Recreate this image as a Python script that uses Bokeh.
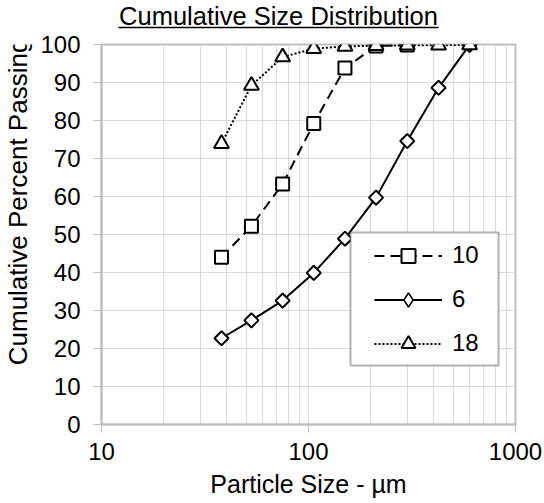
import numpy as np
from bokeh.plotting import figure
from bokeh.layouts import column, row
from bokeh.models import (Range1d, FixedTicker, Legend, LegendItem, BoxAnnotation,
                          PrintfTickFormatter)
from bokeh.core.properties import value
from bokeh.embed import file_html
from bokeh.resources import INLINE

# ---- data ----
sizes = [38, 53, 75, 106, 150, 212, 300, 425, 600]
sizes_10 = [38, 53, 75, 106, 150, 212, 300]
pass_10 = [44.0, 52.2, 63.3, 79.2, 93.8, 99.6, 99.9]
pass_6 = [22.7, 27.4, 32.6, 39.9, 48.9, 59.7, 74.6, 88.6, 99.9]
pass_18 = [73.9, 89.2, 96.7, 98.9, 99.5, 99.7, 99.8, 99.8, 99.9]
series_names = ["10", "6", "18"]
x_major = [10, 100, 1000]
x_minor = [20, 30, 40, 50, 60, 70, 80, 90, 200, 300, 400, 500, 600, 700, 800, 900]
y_ticks = [0, 10, 20, 30, 40, 50, 60, 70, 80, 90, 100]
title_text = "Cumulative Size Distribution"
x_label = "Particle Size - µm"
y_label = "Cumulative Percent Passing"

FONT = "Liberation Sans"
GRID = "#d9d9d9"
AXIS = "#bfbfbf"
W, H = 544, 503
TITLE_H = 30      # height of the title strip
YLAB_W = 36       # width of the y-label strip
MAIN_H = H - TITLE_H
MAIN_W = W - YLAB_W
BASE_SHIFT = 9    # text glyph baseline correction (px)


def strip(w, h):
    f = figure(width=w, height=h, x_range=Range1d(0, w), y_range=Range1d(0, h),
               output_backend="svg", toolbar_location=None, title=None,
               x_axis_location=None, y_axis_location=None, min_border=0)
    f.outline_line_color = None
    f.grid.visible = False
    return f


# ---- title strip (text + underline) ----
pt = strip(W, TITLE_H)
pt.text(x=[278], y=[TITLE_H - 24.3 + BASE_SHIFT], text=[title_text], text_align="center",
        text_baseline="alphabetic", text_font=value(FONT), text_font_size="25.5px",
        text_color="black")
pt.quad(left=[118], right=[438], bottom=[TITLE_H - 27.8], top=[TITLE_H - 26.3],
        fill_color="black", line_color=None)

# ---- y-label strip ----
py = strip(YLAB_W, MAIN_H)
py.text(x=[26.5 - BASE_SHIFT], y=[MAIN_H - (206 - TITLE_H) - 20], text=[y_label],
        angle=np.pi / 2, text_align="center", text_baseline="alphabetic",
        text_font=value(FONT), text_font_size="26px", text_color="black")

# ---- main chart ----
p = figure(width=MAIN_W, height=MAIN_H, x_axis_type="log", title=None,
           x_range=Range1d(10, 1000), y_range=Range1d(0, 100),
           output_backend="svg", toolbar_location=None,
           min_border_left=101 - YLAB_W, min_border_right=29,
           min_border_top=44 - TITLE_H, min_border_bottom=79)

p.outline_line_color = AXIS
p.outline_line_width = 2

p.xaxis.ticker = FixedTicker(ticks=x_major, minor_ticks=x_minor)
p.yaxis.ticker = FixedTicker(ticks=y_ticks)
p.xaxis.formatter = PrintfTickFormatter(format="%d")

p.xgrid.grid_line_color = GRID
p.xgrid.minor_grid_line_color = GRID
p.ygrid.grid_line_color = GRID

for ax in (p.xaxis[0], p.yaxis[0]):
    ax.axis_line_color = AXIS
    ax.axis_line_width = 2
    ax.major_tick_line_color = AXIS
    ax.major_tick_line_width = 1
    ax.major_tick_out = 8
    ax.major_tick_in = 0
    ax.minor_tick_line_color = None
    ax.major_label_text_font = FONT
    ax.major_label_text_font_size = "24px"
    ax.major_label_text_color = "black"
    ax.axis_label_text_font = FONT
    ax.axis_label_text_font_size = "25px"
    ax.axis_label_text_font_style = "normal"
    ax.axis_label_text_color = "black"

p.xaxis.axis_label = x_label
p.xaxis.major_label_standoff = 10
p.xaxis.axis_label_standoff = 7
p.yaxis.major_label_standoff = 13

# series
l10 = p.line(sizes_10, pass_10, line_color="black", line_width=2, line_dash="10 6")
s10 = p.scatter(sizes_10, pass_10, marker="square", size=13, fill_color="white",
                line_color="black", line_width=2)
l6 = p.line(sizes, pass_6, line_color="black", line_width=2)
# narrow diamond (hidden under the rotated squares) gives the legend its diamond
d6 = p.scatter(sizes, pass_6, marker="diamond", size=13, fill_color="white",
               line_color="black", line_width=1.5)
s6 = p.scatter(sizes, pass_6, marker="square", angle=np.pi / 4, size=10,
               fill_color="white", line_color="black", line_width=2)
l18 = p.line(sizes, pass_18, line_color="black", line_width=2, line_dash="2 2")
s18 = p.scatter(sizes, pass_18, marker="triangle", size=15, fill_color="white",
                line_color="black", line_width=2)

# legend frame
box = BoxAnnotation(left=249, right=397, bottom=59, top=192,
                    left_units="screen", right_units="screen",
                    bottom_units="screen", top_units="screen",
                    fill_color="white", fill_alpha=1.0,
                    line_color="black", line_width=2)
p.add_layout(box)

legend = Legend(items=[LegendItem(label=series_names[0], renderers=[l10, s10]),
                       LegendItem(label=series_names[1], renderers=[l6, d6]),
                       LegendItem(label=series_names[2], renderers=[l18, s18])],
                location=(273, 63.5), padding=0, spacing=9, margin=0,
                glyph_width=68, glyph_height=35, label_height=28,
                label_standoff=10, label_text_font=FONT,
                label_text_font_size="24px", label_text_color="black",
                border_line_color=None, background_fill_alpha=0)
p.add_layout(legend)

layout = column(pt, row(py, p, spacing=0), spacing=0)
open("out.html", "w").write(file_html(layout, INLINE))
